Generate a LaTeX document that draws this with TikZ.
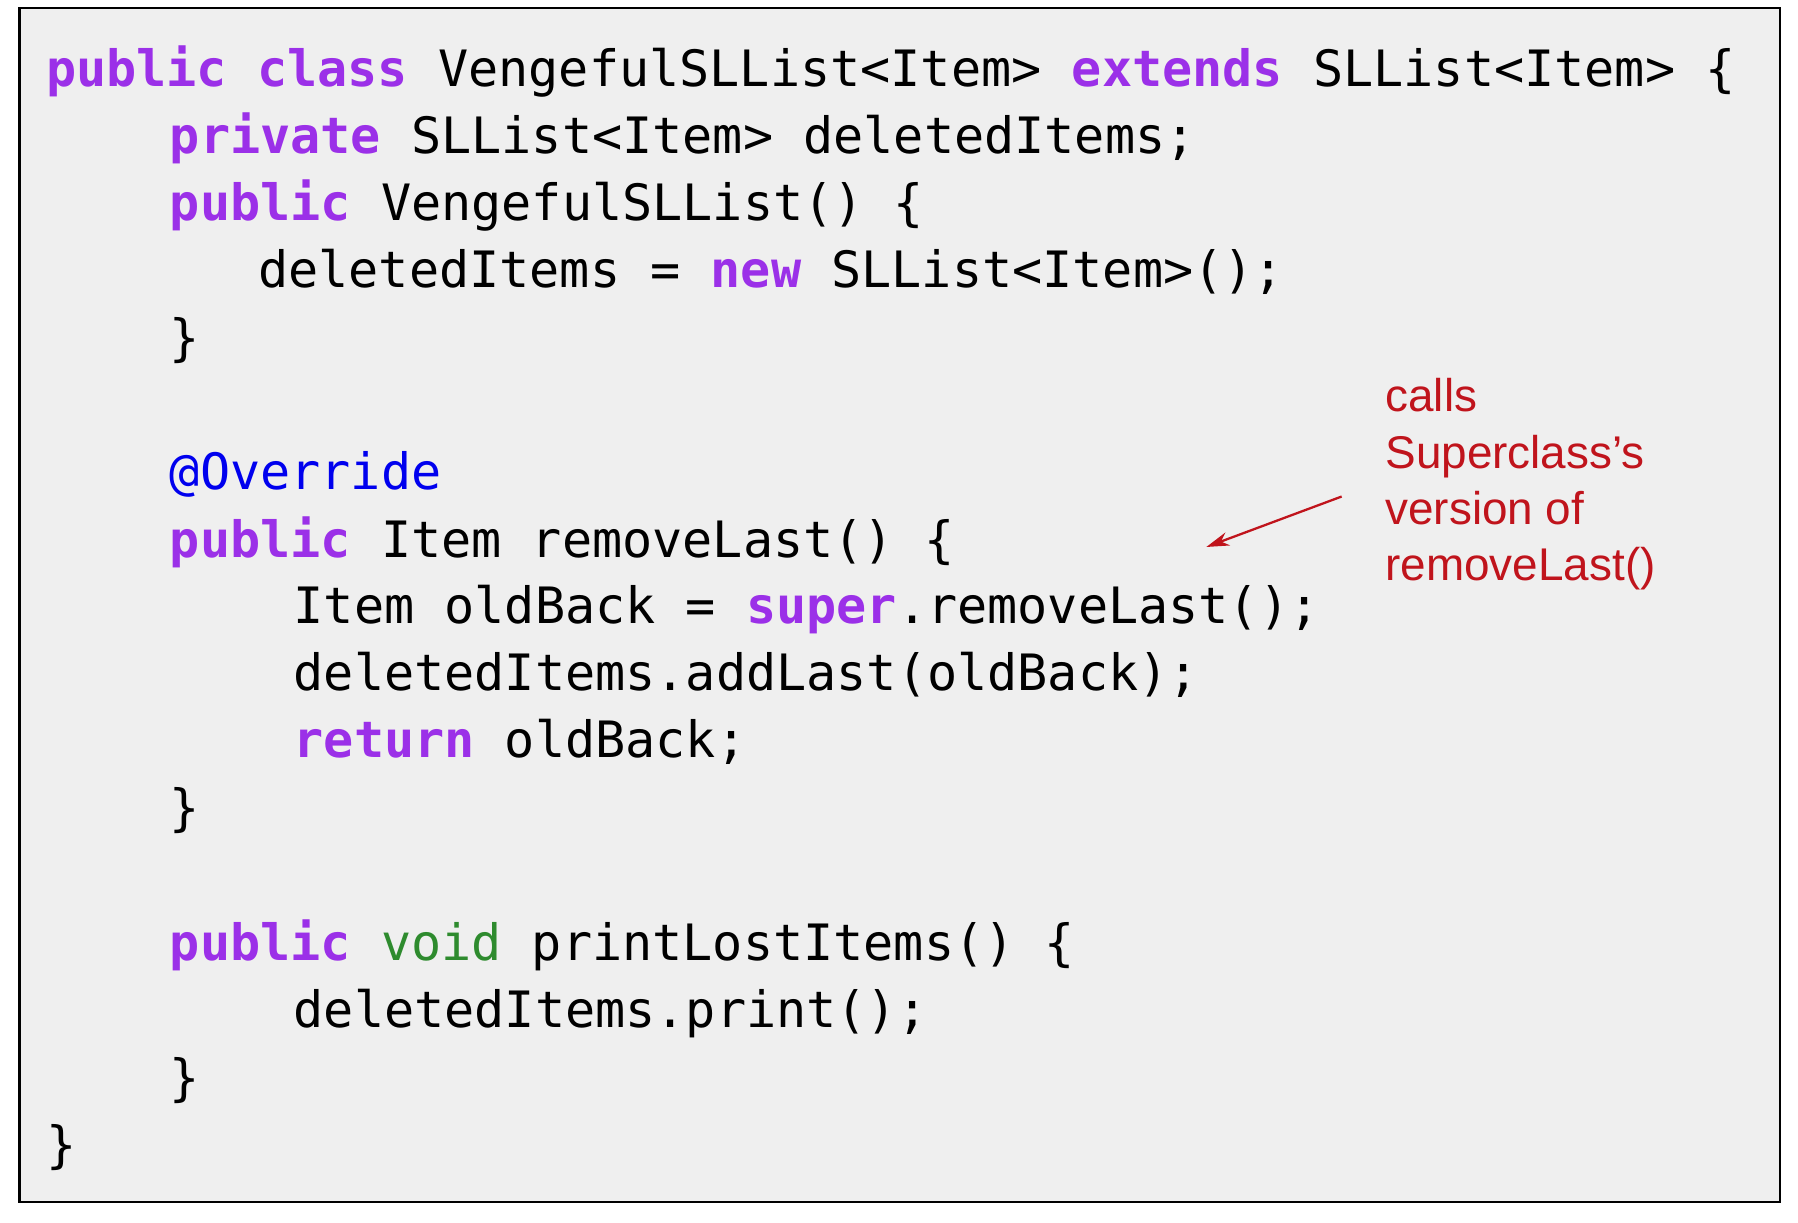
\documentclass[tikz,border=0pt]{standalone}
\usepackage{fontspec}
\setmonofont{DejaVu Sans Mono}
\setsansfont{Liberation Sans}
\usetikzlibrary{arrows.meta}
\definecolor{kwc}{HTML}{9B30E8}
\definecolor{annc}{HTML}{0000EE}
\definecolor{voidc}{HTML}{2E8B2E}
\definecolor{redc}{HTML}{C0141C}
\definecolor{bgc}{HTML}{EFEFEF}
\newcommand{\kw}[1]{\textcolor{kwc}{\bfseries #1}}
\begin{document}
\begin{tikzpicture}[x=1pt,y=-1pt,
  code/.style={anchor=base west,inner sep=0pt,font=\ttfamily\fontsize{43.7}{50}\selectfont},
  note/.style={anchor=north west,inner sep=0pt,align=left,text=redc,font=\sffamily\fontsize{40}{49}\selectfont}]
\useasboundingbox (0,0) rectangle (1568,1066);
\draw[line width=2pt,fill=bgc] (17,7) rectangle (1552,1048);
\node[code] (l1) at (40,75) {\kw{public class} VengefulSLList<Item> \kw{extends} SLList<Item> \{};
\node[code] (l2) at (148,134) {\kw{private} SLList<Item> deletedItems;};
\node[code] (l3) at (148,192) {\kw{public} VengefulSLList() \{};
\node[code] (l4) at (225,251) {deletedItems = \kw{new} SLList<Item>();};
\node[code] (l5) at (148,310) {\}};
\node[code] (l7) at (148,427) {\textcolor{annc}{@Override}};
\node[code] (l8) at (148,486) {\kw{public} Item removeLast() \{};
\node[code] (l9) at (256,544) {Item oldBack = \kw{super}.removeLast();};
\node[code] (l10) at (256,602) {deletedItems.addLast(oldBack);};
\node[code] (l11) at (256,661) {\kw{return} oldBack;};
\node[code] (l12) at (148,720) {\}};
\node[code] (l14) at (148,838) {\kw{public} \textcolor{voidc}{void} printLostItems() \{};
\node[code] (l15) at (256,896) {deletedItems.print();};
\node[code] (l16) at (148,955) {\}};
\node[code] (l17) at (40,1014) {\}};
\node[note] (n) at (1208,330) {calls\\Superclass’s\\version of\\removeLast()};
\coordinate (as) at (1170,433);
\coordinate (ae) at (1052,477);
\draw[redc,line width=2pt,-{Stealth[length=20pt,width=12pt]}] (as) -- (ae);
\end{tikzpicture}
\end{document}
